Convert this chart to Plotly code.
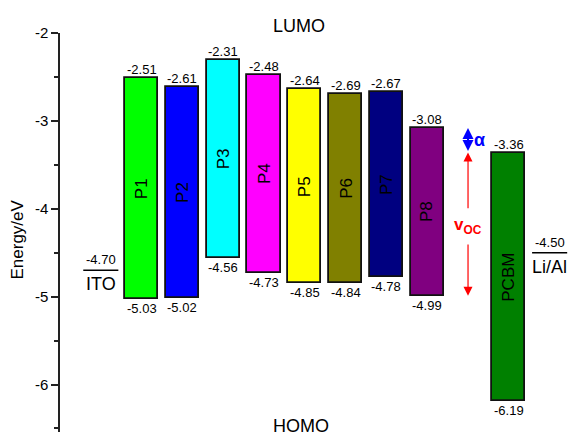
import plotly.graph_objects as go

# ---- data ----
materials = ["P1", "P2", "P3", "P4", "P5", "P6", "P7", "P8", "PCBM"]
lumo = [-2.51, -2.61, -2.31, -2.48, -2.64, -2.69, -2.67, -3.08, -3.36]
homo = [-5.03, -5.02, -4.56, -4.73, -4.85, -4.84, -4.78, -4.99, -6.19]
electrodes = ["ITO", "Li/Al"]
work_functions = [-4.70, -4.50]
ytick_vals = [-2, -3, -4, -5, -6]
ytick_text = ["-2", "-3", "-4", "-5", "-6"]

# ---- style ----
colors = ["#00FF00", "#0000FF", "#00FFFF", "#FF00FF", "#FFFF00",
          "#808000", "#000080", "#800080", "#008000"]
FONT = "Arial, Liberation Sans, sans-serif"

# slot layout: electrode, 8 donors, gap for arrows, acceptor, electrode
bar_x = list(range(1, 9)) + [10]
electrode_x = [0, 11]
arrow_x = 9
bar_w = 0.81

fig = go.Figure()
fig.add_trace(go.Bar(
    x=bar_x,
    y=[l - h for l, h in zip(lumo, homo)],
    base=homo,
    width=bar_w,
    marker=dict(color=colors, line=dict(color="#111111", width=1.8)),
    hoverinfo="skip",
    showlegend=False,
))

ann = []
for x, name, l, h in zip(bar_x, materials, lumo, homo):
    ann.append(dict(x=x, y=l, text=f"{l:.2f}", yanchor="bottom", showarrow=False,
                    font=dict(size=13, color="black"), yshift=-1))
    ann.append(dict(x=x, y=h, text=f"{h:.2f}", yanchor="top", showarrow=False,
                    font=dict(size=13, color="black"), yshift=0))
    ann.append(dict(x=x, y=(l + h) / 2, text=name, textangle=-90, showarrow=False,
                    font=dict(size=17, color="black")))

shapes = []
for x, name, wf in zip(electrode_x, electrodes, work_functions):
    shapes.append(dict(type="line", xref="x", yref="y", x0=x - 0.43, x1=x + 0.43,
                       y0=wf, y1=wf, line=dict(color="black", width=1.5)))
    ann.append(dict(x=x, y=wf, text=f"{wf:.2f}", yanchor="bottom", showarrow=False,
                    font=dict(size=13, color="black"), yshift=1))
    ann.append(dict(x=x, y=wf, text=name, yanchor="top", showarrow=False,
                    font=dict(size=18, color="black"), yshift=-2))

# Voc arrows (red): acceptor LUMO to donor P8 HOMO
voc_top, voc_bot = lumo[-1], homo[-2]
ann.append(dict(x=arrow_x, y=voc_top, ax=arrow_x, ay=-4.01, axref="x", ayref="y",
                xref="x", yref="y", text="", showarrow=True, arrowhead=2,
                arrowsize=1.5, arrowwidth=1.2, arrowcolor="red", standoff=0))
ann.append(dict(x=arrow_x, y=voc_bot, ax=arrow_x, ay=-4.39, axref="x", ayref="y",
                xref="x", yref="y", text="", showarrow=True, arrowhead=2,
                arrowsize=1.5, arrowwidth=1.2, arrowcolor="red", standoff=0))
ann.append(dict(x=arrow_x, y=-4.2, text="<b>v<sub>OC</sub></b>", showarrow=False,
                font=dict(size=17, color="red")))
# alpha arrows (blue): donor P8 LUMO to acceptor LUMO
ann.append(dict(x=arrow_x, y=lumo[-2], ax=arrow_x, ay=lumo[-1], axref="x", ayref="y",
                xref="x", yref="y", text="", showarrow=True, arrowhead=2,
                arrowside="end+start", arrowsize=1.1, arrowwidth=2,
                arrowcolor="#0000FF", standoff=0, startstandoff=0, startarrowhead=2,
                startarrowsize=1.1))
ann.append(dict(x=arrow_x + 0.27, y=(lumo[-2] + lumo[-1]) / 2, text="<b>α</b>",
                showarrow=False, font=dict(size=18, color="#0000FF")))

# headings and axis title
ann.append(dict(x=4.85, y=1.0, yref="paper", text="LUMO", showarrow=False,
                yanchor="bottom", yshift=-5, font=dict(size=18, color="black")))
ann.append(dict(x=4.9, y=-6.47, text="HOMO", showarrow=False,
                font=dict(size=18, color="black")))
ann.append(dict(x=-0.0827, xref="paper", xanchor="center", y=-4.35,
                text="Energy/eV", textangle=-90,
                showarrow=False, font=dict(size=17, color="black")))

fig.update_layout(
    width=568, height=432,
    margin=dict(l=60, r=0, t=33, b=0),
    paper_bgcolor="white", plot_bgcolor="white",
    font=dict(family=FONT, color="black"),
    bargap=0,
    xaxis=dict(visible=False, range=[-1, 11.45], fixedrange=True),
    yaxis=dict(range=[-6.54, -2], tickvals=ytick_vals, ticktext=ytick_text,
               ticks="outside", ticklen=7, tickwidth=1.5, tickcolor="#222222",
               showline=True, linecolor="#222222", linewidth=1.5,
               showgrid=False, zeroline=False, tickfont=dict(size=15),
               fixedrange=True,
               minor=dict(dtick=0.5, tick0=-2, ticks="outside", ticklen=4,
                          tickwidth=1.5, tickcolor="#222222", showgrid=False)),
    shapes=shapes,
    annotations=ann,
)

fig.write_html("out.html", config={"displayModeBar": False},
               post_script="document.body.style.margin='0';document.body.style.overflow='hidden';")
